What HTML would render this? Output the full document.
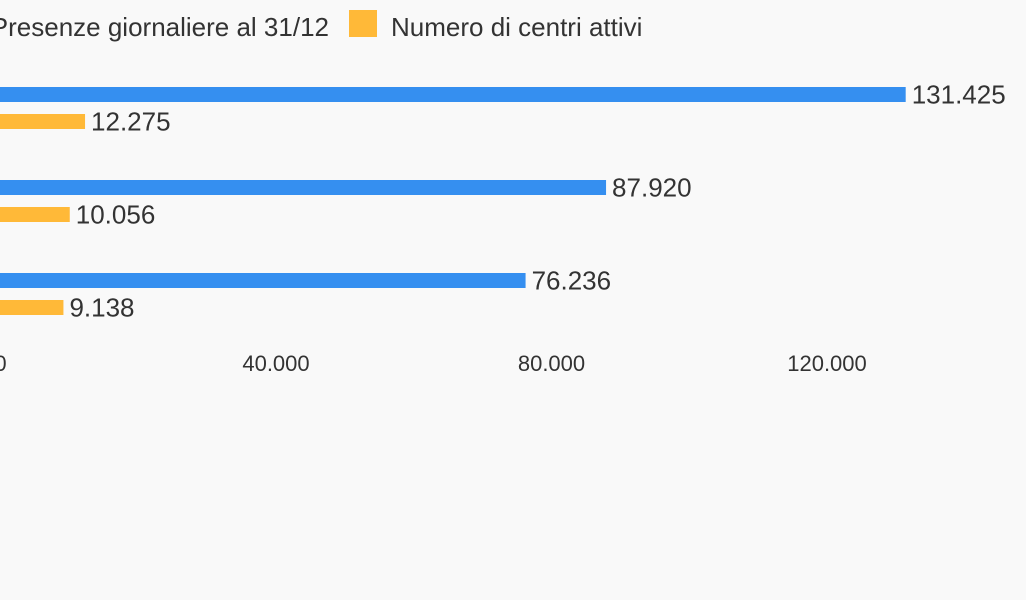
<!DOCTYPE html>
<html><head><meta charset="utf-8"><style>
html,body{margin:0;padding:0;background:#f9f9f9;}
svg{display:block;font-family:"Liberation Sans",sans-serif;}
</style></head><body>
<svg id="chart" width="1026" height="600" viewBox="0 0 1026 600" xmlns="http://www.w3.org/2000/svg">
<rect width="1026" height="600" fill="#f9f9f9"/>
<g id="legend">
  <rect x="304" y="10" width="0" height="0" fill="#358ff0"/>
  <text x="329" y="36" font-size="26" fill="#333" text-anchor="end">Presenze giornaliere al 31/12</text>
  <rect x="349" y="10" width="28" height="27" fill="#ffb938"/>
  <text x="391" y="36" font-size="26" fill="#333">Numero di centri attivi</text>
</g>
<g id="bars"></g>
<g id="xaxis"></g>
</svg>
<script>
const categories = ["2019", "2018", "2017"];
const presenze = [131425, 87920, 76236];
const centri = [12275, 10056, 9138];
const tickValues = [0, 40000, 80000, 120000, 160000];
const tickLabels = ["0", "40.000", "80.000", "120.000", "160.000"];

const NS = "http://www.w3.org/2000/svg";
const x0 = 0.5, pxPer = 275.5 / 40000;
function xScale(v){ return x0 + v * pxPer; }
function fmt(v){ return v.toString().replace(/\B(?=(\d{3})+(?!\d))/g, "."); }
const groupTop = 87, groupStep = 93, barH = 15, gap = 12;
const bars = document.getElementById("bars");
function mk(tag, attrs){ const e = document.createElementNS(NS, tag); for (const k in attrs) e.setAttribute(k, attrs[k]); return e; }
categories.forEach((c, i) => {
  const y1 = groupTop + i * groupStep;
  const y2 = y1 + barH + gap;
  const b1 = mk("rect", {x: 0, y: y1, width: xScale(presenze[i]), height: barH, fill: "#358ff0"});
  
  
  bars.appendChild(b1);
  const t1 = mk("text", {x: xScale(presenze[i]) + 6, y: y1 + barH/2 + 9, "font-size": 26, fill: "#333"});
  t1.textContent = fmt(presenze[i]);
  
  
  bars.appendChild(t1);
  const b2 = mk("rect", {x: 0, y: y2, width: xScale(centri[i]), height: barH, fill: "#ffb938"});
  
  
  bars.appendChild(b2);
  const t2 = mk("text", {x: xScale(centri[i]) + 6, y: y2 + barH/2 + 9, "font-size": 26, fill: "#333"});
  t2.textContent = fmt(centri[i]);
  
  
  bars.appendChild(t2);
});
const xaxis = document.getElementById("xaxis");
tickValues.forEach((v, i) => {
  const t = mk("text", {x: xScale(v), y: 371, "font-size": 22, fill: "#333", "text-anchor": "middle"});
  t.textContent = tickLabels[i];
  
  
  xaxis.appendChild(t);
});
</script>
</body></html>
